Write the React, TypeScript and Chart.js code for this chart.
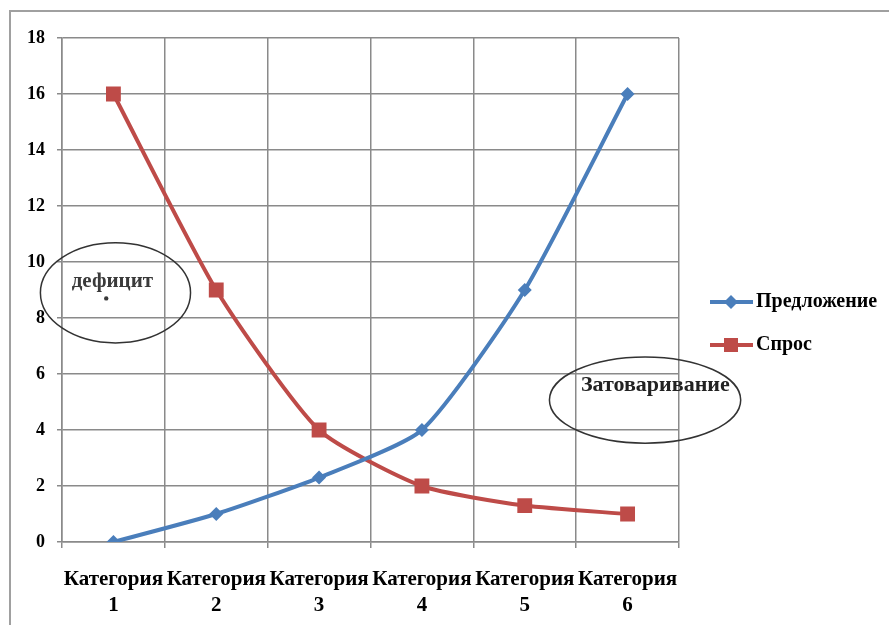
import React, { useEffect, useRef } from "react";
import { Chart, registerables } from "chart.js";

Chart.register(...registerables);

const categories: string[][] = [
  ["Категория", "1"],
  ["Категория", "2"],
  ["Категория", "3"],
  ["Категория", "4"],
  ["Категория", "5"],
  ["Категория", "6"],
];
const supplyLabel = "Предложение";
const demandLabel = "Спрос";
const supply = [0, 1, 2.3, 4, 9, 16];
const demand = [16, 9, 4, 2, 1.3, 1];
const yMin = 0;
const yMax = 18;
const yStep = 2;

// annotations in data units (x = category index, y = value)
const deficitNote = { text: "дефицит", cx: 0.02, cy: 8.9, rx: 0.73, ry: 1.79, tx: -0.01, ty: 9.3, dotX: -0.07, dotY: 8.7 };
const surplusNote = { text: "Затоваривание", cx: 5.17, cy: 5.07, rx: 0.93, ry: 1.54, tx: 5.27, ty: 5.6 };

const BLUE = "#4a7ebb";
const RED = "#be4b48";
const FONT = "'Liberation Serif', 'Times New Roman', serif";

export default function App() {
  const ref = useRef<HTMLCanvasElement | null>(null);
  useEffect(() => {
    document.body.style.margin = "0";
    const canvas = ref.current!;
    const annotationPlugin = {
      id: "notes",
      afterDraw(chart: any) {
        const ctx = chart.ctx as CanvasRenderingContext2D;
        const xs = chart.scales.x;
        const ys = chart.scales.y;
        const unitX = xs.getPixelForValue(1) - xs.getPixelForValue(0);
        const unitY = ys.getPixelForValue(0) - ys.getPixelForValue(1);
        ctx.save();
        // outer border
        ctx.strokeStyle = "#a0a0a0";
        ctx.lineWidth = 2;
        ctx.strokeRect(10, 11, 1000, 1000);
        const ellipse = (n: any) => {
          ctx.beginPath();
          ctx.ellipse(xs.getPixelForValue(n.cx), ys.getPixelForValue(n.cy), n.rx * unitX, n.ry * unitY, 0, 0, Math.PI * 2);
          ctx.strokeStyle = "#333";
          ctx.lineWidth = 1.5;
          ctx.stroke();
        };
        ellipse(deficitNote);
        ellipse(surplusNote);
        ctx.fillStyle = "#3a3a3a";
        ctx.textAlign = "center";
        ctx.textBaseline = "middle";
        ctx.font = `bold 21px ${FONT}`;
        ctx.fillText(deficitNote.text, xs.getPixelForValue(deficitNote.tx), ys.getPixelForValue(deficitNote.ty));
        ctx.beginPath();
        ctx.arc(xs.getPixelForValue(deficitNote.dotX), ys.getPixelForValue(deficitNote.dotY), 2.2, 0, Math.PI * 2);
        ctx.fill();
        ctx.fillStyle = "#222";
        ctx.font = `bold 22px ${FONT}`;
        ctx.fillText(surplusNote.text, xs.getPixelForValue(surplusNote.tx), ys.getPixelForValue(surplusNote.ty));

        // legend
        const items = [
          { label: supplyLabel, color: BLUE, style: "diamond", y: 302 },
          { label: demandLabel, color: RED, style: "square", y: 345 },
        ];
        ctx.textAlign = "left";
        ctx.font = `bold 20px ${FONT}`;
        for (const it of items) {
          ctx.strokeStyle = it.color;
          ctx.lineWidth = 4;
          ctx.beginPath();
          ctx.moveTo(710, it.y);
          ctx.lineTo(753, it.y);
          ctx.stroke();
          ctx.fillStyle = it.color;
          ctx.beginPath();
          if (it.style === "diamond") {
            ctx.moveTo(731 - 7, it.y);
            ctx.lineTo(731, it.y - 7);
            ctx.lineTo(731 + 7, it.y);
            ctx.lineTo(731, it.y + 7);
            ctx.closePath();
          } else {
            ctx.rect(731 - 7, it.y - 7, 14, 14);
          }
          ctx.fill();
          ctx.fillStyle = "#000";
          ctx.fillText(it.label, 756, it.y);
        }
        ctx.restore();
      },
    };

    const chart = new Chart(canvas, {
      type: "line",
      data: {
        labels: categories,
        datasets: [
          {
            label: supplyLabel,
            data: supply,
            borderColor: BLUE,
            backgroundColor: BLUE,
            borderWidth: 4,
            pointStyle: "rectRot",
            pointRadius: 7,
            pointBorderWidth: 0,
            tension: 0.2,
          },
          {
            label: demandLabel,
            data: demand,
            borderColor: RED,
            backgroundColor: RED,
            borderWidth: 4,
            pointStyle: "rect",
            pointRadius: 10.5,
            pointBorderWidth: 0,
            tension: 0.2,
          },
        ],
      },
      options: {
        animation: false,
        responsive: false,
        devicePixelRatio: 1,
        layout: { padding: { left: 0, top: 38, right: 210, bottom: 0 } },
        plugins: { legend: { display: false }, tooltip: { enabled: false } },
        scales: {
          x: {
            offset: true,
            afterFit: (s: any) => {
              s.height = 83;
            },
            grid: { color: "#8a8a8a", lineWidth: 1.5, tickLength: 6, offset: true },
            border: { color: "#8a8a8a", width: 1.5 },
            ticks: {
              autoSkip: false,
              maxRotation: 0,
              padding: 18,
              color: "#000",
              font: { family: FONT, size: 21, weight: "bold", lineHeight: 1.25 },
            },
          },
          y: {
            min: yMin,
            max: yMax,
            afterFit: (s: any) => {
              s.width = 62;
            },
            grid: { color: "#8a8a8a", lineWidth: 1.5, tickLength: 5 },
            border: { color: "#8a8a8a", width: 1.5 },
            ticks: {
              stepSize: yStep,
              padding: 12,
              color: "#000",
              font: { family: FONT, size: 18, weight: "bold" },
            },
          },
        },
      },
      plugins: [annotationPlugin],
    } as any);
    return () => chart.destroy();
  }, []);
  return <canvas ref={ref} width={889} height={625} style={{ display: "block" }} />;
}
